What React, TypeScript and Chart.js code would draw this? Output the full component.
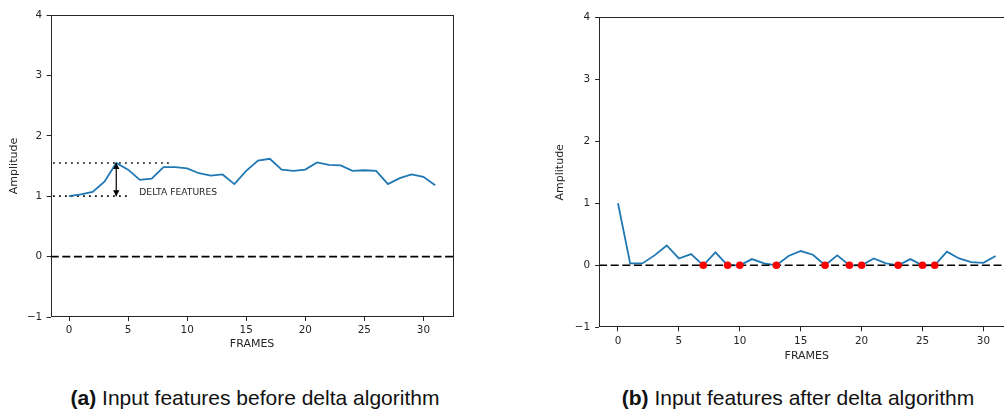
import React, { useEffect, useRef } from "react";
import { Chart, registerables } from "chart.js";

Chart.register(...registerables);

// ---------------- data ----------------
const frames = [0, 1, 2, 3, 4, 5, 6, 7, 8, 9, 10, 11, 12, 13, 14, 15, 16, 17, 18, 19, 20, 21, 22, 23, 24, 25, 26, 27, 28, 29, 30, 31];
const beforeDelta = [1.0, 1.03, 1.07, 1.24, 1.55, 1.44, 1.27, 1.29, 1.48, 1.48, 1.46, 1.38, 1.34, 1.36, 1.2, 1.42, 1.59, 1.62, 1.44, 1.42, 1.44, 1.56, 1.52, 1.51, 1.42, 1.43, 1.42, 1.2, 1.3, 1.36, 1.32, 1.18];
const afterDelta = [1.0, 0.03, 0.03, 0.16, 0.32, 0.11, 0.18, 0, 0.21, 0, 0, 0.1, 0.03, 0, 0.15, 0.23, 0.17, 0, 0.16, 0, 0, 0.11, 0.03, 0, 0.1, 0, 0, 0.22, 0.11, 0.05, 0.04, 0.15];
const zeroFrames = [7, 9, 10, 13, 17, 19, 20, 23, 25, 26];
const xTicks = [0, 5, 10, 15, 20, 25, 30];
const yTicks = [-1, 0, 1, 2, 3, 4];
const xLimits = [-1.55, 32.55];
const yLimits = [-1, 4];

// annotation values (left panel)
const deltaFrame = 4;
const deltaLow = 1.0;
const deltaHigh = 1.55;
const dottedStart = -1.35;
const dottedHighEnd = 8.7;
const dottedLowEnd = 5.2;
const deltaLabel = "DELTA FEATURES";
const deltaLabelX = 5.95;
const deltaLabelY = 1.065;

const captionA = ["(a)", " Input features before delta algorithm"];
const captionB = ["(b)", " Input features after delta algorithm"];

// ---------------- styles ----------------
const BLUE = "#1f77b4";
const AXIS = "#262626";
const TEXT = "#262626";
const FONT = "DejaVu Sans";

const minusFmt = (v: any) => String(v).replace("-", "\u2212");

type Geo = {
  padTop: number;
  padRight: number;
  yWidth: number;
  xHeight: number;
  yTitlePad: number;
  xTitlePad: number;
  xTickPad: number;
  yTickPad: number;
};

function baseOptions(g: Geo): any {
  return {
    responsive: false,
    animation: false,
    events: [],
    layout: { padding: { top: g.padTop, right: g.padRight, left: 0, bottom: 0 } },
    plugins: { legend: { display: false }, tooltip: { enabled: false }, title: { display: false } },
    scales: {
      x: {
        type: "linear",
        min: xLimits[0],
        max: xLimits[1],
        afterBuildTicks: (s: any) => {
          s.ticks = xTicks.map((v) => ({ value: v }));
        },
        afterFit: (s: any) => {
          s.height = g.xHeight;
        },
        grid: { drawOnChartArea: false, drawTicks: true, tickLength: 4, color: AXIS, lineWidth: 1 },
        border: { display: false },
        ticks: {
          color: TEXT,
          font: { family: FONT, size: 10.4 },
          padding: g.xTickPad,
          maxRotation: 0,
          autoSkip: false,
          callback: minusFmt,
        },
        title: {
          display: true,
          text: "FRAMES",
          color: TEXT,
          font: { family: FONT, size: 11 },
          padding: { top: 0, bottom: g.xTitlePad },
        },
      },
      y: {
        type: "linear",
        min: yLimits[0],
        max: yLimits[1],
        afterBuildTicks: (s: any) => {
          s.ticks = yTicks.map((v) => ({ value: v }));
        },
        afterFit: (s: any) => {
          s.width = g.yWidth;
        },
        grid: { drawOnChartArea: false, drawTicks: true, tickLength: 4, color: AXIS, lineWidth: 1 },
        border: { display: false },
        ticks: {
          color: TEXT,
          font: { family: FONT, size: 10.4 },
          padding: g.yTickPad,
          autoSkip: false,
          callback: minusFmt,
        },
        title: {
          display: true,
          text: "Amplitude",
          color: TEXT,
          font: { family: FONT, size: 11 },
          padding: { top: g.yTitlePad, bottom: 0 },
        },
      },
    },
  };
}

const framePlugin = {
  id: "frame",
  afterDraw(chart: any) {
    const { ctx, chartArea: a } = chart;
    ctx.save();
    ctx.strokeStyle = AXIS;
    ctx.lineWidth = 1;
    const l = Math.round(a.left) + 0.5;
    const t = Math.round(a.top) + 0.5;
    const r = Math.round(a.right) - 0.5;
    const b = Math.round(a.bottom) - 0.5;
    ctx.strokeRect(l, t, r - l, b - t);
    ctx.restore();
  },
};

function drawZeroLine(chart: any) {
  const { ctx, chartArea: a, scales } = chart;
  const y = scales.y.getPixelForValue(0);
  ctx.save();
  ctx.strokeStyle = "#000";
  ctx.lineWidth = 1.6;
  ctx.setLineDash([8, 3.6]);
  ctx.beginPath();
  ctx.moveTo(a.left, y);
  ctx.lineTo(a.right, y);
  ctx.stroke();
  ctx.restore();
}

const zeroLinePlugin = {
  id: "zeroLine",
  afterDatasetDraw(chart: any, args: any) {
    const lineIdx = chart.data.datasets.findIndex((d: any) => d.label === "signal");
    if (args.index === lineIdx) drawZeroLine(chart);
  },
};

const deltaPlugin = {
  id: "delta",
  afterDatasetsDraw(chart: any) {
    const { ctx, scales } = chart;
    const x = scales.x.getPixelForValue(deltaFrame);
    const y1 = scales.y.getPixelForValue(deltaHigh);
    const y2 = scales.y.getPixelForValue(deltaLow);
    ctx.save();
    ctx.strokeStyle = "#000";
    ctx.fillStyle = "#000";
    ctx.lineWidth = 1.2;
    ctx.beginPath();
    ctx.moveTo(x, y1);
    ctx.lineTo(x, y2);
    ctx.stroke();
    const hl = 6;
    const hw = 3.2;
    ctx.beginPath();
    ctx.moveTo(x, y1);
    ctx.lineTo(x - hw, y1 + hl);
    ctx.lineTo(x + hw, y1 + hl);
    ctx.closePath();
    ctx.fill();
    ctx.beginPath();
    ctx.moveTo(x, y2);
    ctx.lineTo(x - hw, y2 - hl);
    ctx.lineTo(x + hw, y2 - hl);
    ctx.closePath();
    ctx.fill();
    ctx.font = `9.2px "${FONT}"`;
    ctx.fillStyle = TEXT;
    ctx.textAlign = "left";
    ctx.textBaseline = "middle";
    ctx.fillText(deltaLabel, scales.x.getPixelForValue(deltaLabelX), scales.y.getPixelForValue(deltaLabelY));
    ctx.restore();
  },
};

function leftConfig(): any {
  const opts = baseOptions({
    padTop: 15,
    padRight: 470 - 453.5,
    yWidth: 50.7,
    xHeight: 360 - 317,
    yTitlePad: 8,
    xTitlePad: 9,
    xTickPad: 3,
    yTickPad: 4.5,
  });
  const dotted = {
    borderColor: "#000",
    borderWidth: 1.7,
    borderDash: [1.7, 4.3],
    pointRadius: 0,
    fill: false,
  };
  return {
    type: "line",
    data: {
      datasets: [
        {
          label: "signal",
          data: frames.map((f, i) => ({ x: f, y: beforeDelta[i] })),
          borderColor: BLUE,
          borderWidth: 1.8,
          pointRadius: 0,
          tension: 0,
          fill: false,
        },
        { label: "high", data: [{ x: dottedStart, y: deltaHigh }, { x: dottedHighEnd, y: deltaHigh }], ...dotted },
        { label: "low", data: [{ x: dottedStart, y: deltaLow }, { x: dottedLowEnd, y: deltaLow }], ...dotted },
      ],
    },
    options: opts,
    plugins: [zeroLinePlugin, deltaPlugin, framePlugin],
  };
}

function rightConfig(): any {
  const opts = baseOptions({
    padTop: 17.3,
    padRight: 480 - 474.5,
    yWidth: 59.1,
    xHeight: 370 - 327.3,
    yTitlePad: 14,
    xTitlePad: 7,
    xTickPad: 4,
    yTickPad: 5,
  });
  return {
    type: "line",
    data: {
      datasets: [
        {
          label: "zeros",
          type: "scatter",
          data: zeroFrames.map((f) => ({ x: f, y: 0 })),
          backgroundColor: "#ff0000",
          borderColor: "#ff0000",
          pointRadius: 3.8,
          borderWidth: 0,
          showLine: false,
        },
        {
          label: "signal",
          data: frames.map((f, i) => ({ x: f, y: afterDelta[i] })),
          borderColor: BLUE,
          borderWidth: 1.8,
          pointRadius: 0,
          tension: 0,
          fill: false,
        },
      ],
    },
    options: opts,
    plugins: [zeroLinePlugin, framePlugin],
  };
}

function PlotCanvas({ width, height, makeConfig }: { width: number; height: number; makeConfig: () => any }) {
  const ref = useRef<HTMLCanvasElement | null>(null);
  useEffect(() => {
    if (!ref.current) return;
    const chart = new Chart(ref.current, makeConfig());
    return () => chart.destroy();
  }, []);
  return <canvas ref={ref} width={width} height={height} style={{ display: "block", width, height }} />;
}

function Caption({ parts, center }: { parts: string[]; center: number }) {
  return (
    <div
      style={{
        position: "absolute",
        left: center,
        top: 386,
        transform: "translateX(-50%)",
        whiteSpace: "nowrap",
        fontFamily: "'Liberation Sans', Arial, sans-serif",
        fontSize: 21,
        lineHeight: "24px",
        color: "#111",
      }}
    >
      <b>{parts[0]}</b>
      {parts[1]}
    </div>
  );
}

export default function App() {
  return (
    <div
      style={{
        position: "fixed",
        left: 0,
        top: 0,
        width: 1004,
        height: 411,
        overflow: "hidden",
        background: "#fff",
      }}
    >
      <div style={{ position: "absolute", left: 0, top: 0 }}>
        <PlotCanvas width={470} height={360} makeConfig={leftConfig} />
      </div>
      <div style={{ position: "absolute", left: 540, top: 0 }}>
        <PlotCanvas width={480} height={370} makeConfig={rightConfig} />
      </div>
      <Caption parts={captionA} center={255} />
      <Caption parts={captionB} center={798} />
    </div>
  );
}
